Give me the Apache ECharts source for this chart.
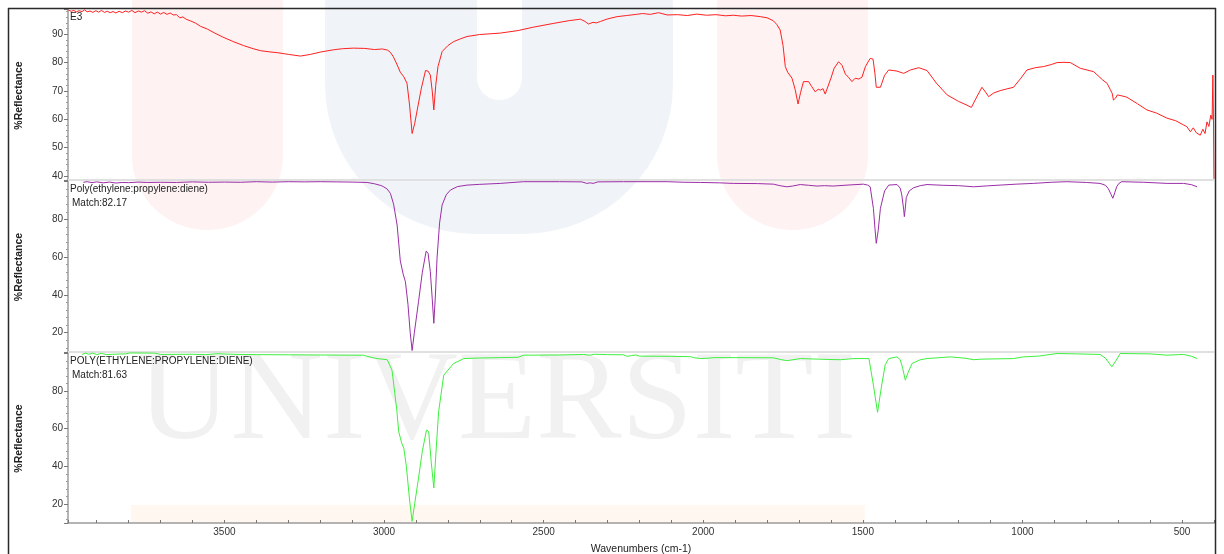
<!DOCTYPE html>
<html>
<head>
<meta charset="utf-8">
<script src="https://cdn.jsdelivr.net/npm/echarts@6/dist/echarts.min.js"></script>
<style>
  html, body { margin: 0; padding: 0; background: #ffffff; }
  #chart { width: 1224px; height: 554px; }
</style>
</head>
<body>
<div id="chart"></div>
<script>
// ---- Sample spectrum: E3 ----
const e3Wavenumber = [3989, 3980, 3972, 3964, 3955, 3946, 3938, 3930, 3921, 3912, 3903, 3894, 3885, 3876, 3867, 3858, 3849, 3840, 3830, 3820, 3810, 3800, 3790, 3780, 3770, 3760, 3750, 3740, 3730, 3720, 3710, 3700, 3690, 3680, 3670, 3660, 3650, 3640, 3630, 3620, 3606, 3590, 3575, 3553, 3530, 3505, 3472, 3440, 3410, 3387, 3360, 3334, 3300, 3262, 3230, 3200, 3159, 3130, 3096, 3060, 3030, 3005, 2989, 2980, 2971, 2960, 2949, 2938, 2928, 2920, 2912, 2904, 2896, 2883, 2870, 2862, 2855, 2849, 2844, 2838, 2831, 2818, 2800, 2782, 2760, 2740, 2700, 2636, 2580, 2532, 2470, 2420, 2385, 2370, 2360, 2354, 2345, 2335, 2322, 2300, 2270, 2240, 2210, 2190, 2166, 2140, 2113, 2080, 2050, 2020, 1990, 1960, 1930, 1906, 1880, 1850, 1821, 1800, 1781, 1770, 1759, 1750, 1743, 1735, 1722, 1712, 1703, 1695, 1686, 1670, 1660, 1649, 1640, 1633, 1625, 1618, 1600, 1590, 1576, 1565, 1555, 1545, 1534, 1524, 1513, 1503, 1492, 1477, 1468, 1462, 1458, 1445, 1432, 1419, 1405, 1393, 1372, 1351, 1325, 1299, 1270, 1236, 1200, 1174, 1160, 1145, 1127, 1115, 1106, 1090, 1070, 1050, 1028, 1005, 986, 960, 934, 910, 892, 870, 850, 819, 777, 750, 735, 725, 719, 715, 708, 703, 690, 673, 640, 610, 580, 547, 520, 495, 485, 474, 465, 455, 443, 435, 428, 422, 416, 410, 406, 403.5, 401.5, 400.2];
const e3Reflectance = [98.5, 98.1, 98.4, 97.9, 98.3, 98.0, 98.6, 97.9, 98.2, 97.7, 98.3, 97.8, 98.4, 97.7, 98.1, 97.6, 98.0, 97.5, 98.1, 97.6, 98.2, 97.8, 98.4, 97.6, 98.2, 97.8, 98.3, 97.4, 97.9, 97.2, 97.8, 97.1, 97.7, 97.0, 97.5, 96.8, 96.9, 95.8, 96.1, 95.3, 94.7, 93.9, 92.8, 91.8, 90.4, 89.0, 87.4, 86.0, 84.9, 84.2, 83.8, 83.5, 82.9, 82.3, 82.9, 83.7, 84.5, 84.9, 85.1, 85.0, 84.6, 84.8, 84.4, 83.6, 82.1, 79.5, 76.6, 75.0, 72.7, 65.0, 55.0, 58.5, 63.3, 71.0, 77.2, 77.0, 75.6, 70.0, 63.3, 72.0, 78.6, 83.9, 86.0, 87.4, 88.4, 89.2, 89.9, 90.4, 91.3, 92.5, 93.8, 94.8, 95.3, 94.5, 93.6, 94.0, 94.2, 94.0, 94.5, 95.4, 96.2, 96.6, 97.0, 97.3, 97.0, 97.6, 96.8, 96.9, 96.6, 97.1, 96.7, 96.9, 96.5, 96.7, 96.4, 96.6, 96.2, 95.8, 94.8, 93.5, 91.5, 86.0, 78.6, 76.5, 74.5, 70.5, 65.4, 69.5, 73.3, 73.3, 71.5, 69.7, 70.6, 70.3, 70.8, 68.9, 74.5, 78.0, 80.3, 79.0, 76.0, 74.8, 73.3, 74.5, 74.2, 74.8, 78.6, 81.5, 81.2, 76.0, 71.3, 71.3, 75.5, 77.4, 77.2, 77.0, 76.2, 77.4, 78.2, 77.2, 72.8, 68.6, 66.3, 65.0, 64.2, 67.5, 71.3, 69.5, 68.0, 69.3, 70.1, 70.7, 71.3, 74.5, 77.4, 78.2, 78.6, 79.3, 80.0, 80.1, 80.0, 78.0, 76.8, 74.0, 72.7, 70.5, 69.2, 66.8, 67.5, 68.6, 68.3, 67.8, 65.5, 63.3, 62.2, 60.4, 59.5, 58.0, 57.4, 55.6, 57.0, 55.2, 54.4, 56.5, 55.0, 59.1, 57.5, 61.5, 60.0, 75.6, 58.7, 39.0];

// ---- Library hit 1: Poly(ethylene:propylene:diene), match 82.17 ----
const hit1Wavenumber = [3942, 3930, 3915, 3900, 3880, 3860, 3840, 3820, 3800, 3770, 3740, 3700, 3650, 3600, 3550, 3500, 3450, 3400, 3350, 3300, 3250, 3200, 3150, 3100, 3053, 3030, 3010, 3001, 2990, 2980, 2970, 2959, 2949, 2940, 2933, 2925, 2918, 2912, 2905, 2892, 2880, 2868, 2862, 2855, 2849, 2844, 2839, 2834, 2826, 2818, 2805, 2792, 2770, 2740, 2700, 2636, 2563, 2450, 2380, 2365, 2354, 2345, 2330, 2250, 2113, 2060, 2009, 1950, 1906, 1830, 1780, 1760, 1738, 1720, 1696, 1670, 1644, 1620, 1593, 1540, 1498, 1485, 1477, 1467, 1462, 1458, 1452, 1445, 1432, 1419, 1393, 1383, 1378, 1372, 1370, 1367, 1364, 1355, 1341, 1320, 1299, 1250, 1200, 1153, 1110, 1070, 1020, 966, 910, 861, 800, 757, 740, 731, 722, 717, 711, 705, 698, 689, 620, 547, 495, 470, 453];
const hit1Reflectance = [99.6, 99.9, 99.4, 99.8, 99.3, 99.7, 99.2, 99.5, 99.4, 99.7, 99.5, 99.6, 99.5, 99.8, 99.6, 99.7, 99.6, 99.9, 99.7, 99.9, 99.8, 99.9, 99.8, 99.7, 99.5, 98.8, 97.9, 97.2, 96.0, 93.7, 88.0, 77.0, 58.0, 51.0, 47.0, 35.0, 20.0, 10.6, 20.0, 36.4, 52.0, 63.2, 62.0, 52.3, 38.0, 25.0, 40.0, 59.4, 78.0, 87.6, 93.0, 95.5, 97.3, 98.1, 98.5, 99.0, 99.9, 99.9, 99.8, 99.0, 99.3, 99.0, 99.8, 99.9, 99.9, 99.6, 99.5, 99.3, 99.0, 98.9, 98.6, 97.8, 97.2, 97.6, 98.4, 98.0, 97.6, 97.8, 97.6, 98.2, 98.6, 98.1, 97.2, 85.8, 75.0, 67.3, 74.0, 85.8, 95.0, 98.1, 98.4, 96.5, 92.9, 85.0, 81.4, 86.0, 91.5, 95.0, 96.7, 97.8, 98.4, 98.0, 97.8, 97.2, 97.7, 98.1, 98.6, 99.0, 99.6, 99.9, 99.5, 99.0, 98.0, 96.2, 93.0, 91.1, 94.0, 97.2, 99.0, 99.9, 99.6, 99.0, 99.0, 98.3, 97.2];

// ---- Library hit 2: POLY(ETHYLENE:PROPYLENE:DIENE), match 81.63 ----
const hit2Wavenumber = [3946, 3935, 3925, 3912, 3900, 3885, 3870, 3850, 3810, 3795, 3720, 3700, 3600, 3560, 3520, 3480, 3400, 3300, 3200, 3100, 3065, 3053, 3035, 3022, 3000, 2990, 2975, 2960, 2954, 2944, 2938, 2930, 2920, 2912, 2904, 2892, 2880, 2867, 2860, 2852, 2844, 2837, 2829, 2813, 2782, 2750, 2700, 2636, 2580, 2563, 2450, 2375, 2355, 2340, 2300, 2250, 2239, 2225, 2210, 2200, 2100, 2040, 2030, 2009, 1985, 1967, 1900, 1780, 1755, 1738, 1722, 1696, 1640, 1600, 1570, 1530, 1481, 1467, 1454, 1441, 1430, 1419, 1393, 1383, 1375, 1367, 1358, 1346, 1320, 1299, 1226, 1180, 1153, 1130, 1028, 997, 950, 892, 830, 757, 740, 720, 706, 694, 600, 547, 510, 495, 470, 453];
const hit2Reflectance = [99.5, 100.2, 99.6, 100.2, 99.4, 100.1, 99.4, 99.6, 99.8, 100.3, 100.2, 99.5, 99.6, 99.4, 99.9, 99.6, 99.4, 99.3, 99.2, 99.1, 99.1, 98.5, 97.8, 97.3, 96.9, 96.7, 91.1, 70.0, 58.4, 52.0, 49.6, 40.0, 22.0, 10.7, 20.0, 33.7, 48.0, 59.3, 58.4, 42.0, 28.4, 48.0, 69.0, 88.5, 94.7, 97.3, 97.6, 97.8, 98.0, 99.1, 99.2, 99.5, 99.1, 99.6, 99.4, 99.3, 98.5, 98.9, 99.2, 98.6, 98.5, 98.3, 97.8, 97.3, 97.5, 97.8, 97.8, 97.7, 96.7, 96.2, 96.6, 97.3, 97.0, 96.8, 96.7, 97.3, 97.3, 83.2, 68.7, 83.2, 94.0, 97.3, 98.2, 96.7, 92.0, 85.8, 90.0, 94.7, 96.7, 97.3, 98.2, 97.5, 96.7, 97.0, 97.3, 98.2, 98.6, 100.0, 99.8, 99.5, 97.5, 92.9, 96.5, 100.0, 99.8, 99.1, 99.4, 99.5, 98.5, 97.3];

// ---- Axis tick labels ----
const xTickLabels = [500, 1000, 1500, 2000, 2500, 3000, 3500];
const yTickLabelsTop = [40, 50, 60, 70, 80, 90];
const yTickLabelsLower = [20, 40, 60, 80];

// ---- Panel captions ----
const panelTitles = ['E3', 'Poly(ethylene:propylene:diene)', 'POLY(ETHYLENE:PROPYLENE:DIENE)'];
const panelMatches = ['', 'Match:82.17', 'Match:81.63'];
const yAxisTitle = '%Reflectance';
const xAxisTitle = 'Wavenumbers (cm-1)';

const zip = (xs, ys) => xs.map((x, i) => [x, ys[i]]);

const FONT = "'Liberation Sans', Arial, sans-serif";
const AXIS_GRAY = '#9c9c9c';
const PLOT_LEFT = 68, PLOT_RIGHT = 1214;
const panels = [
  { top: 9, height: 171, min: 38.6, max: 98.9, split: 6, labels: yTickLabelsTop },
  { top: 180, height: 172, min: 9.8, max: 100.8, split: 5, labels: yTickLabelsLower },
  { top: 352, height: 171, min: 9.8, max: 100.8, split: 5, labels: yTickLabelsLower }
];

const grids = panels.map(p => ({
  left: PLOT_LEFT, right: 1224 - PLOT_RIGHT, top: p.top, height: p.height,
  containLabel: false, outerBoundsMode: 'none'
}));

const xAxes = panels.map((p, i) => ({
  type: 'value', gridIndex: i, min: 400, max: 3990, interval: 100, inverse: true,
  show: i === 2,
  axisLine: { show: true, onZero: false, lineStyle: { color: AXIS_GRAY, width: 1.5 } },
  axisTick: { show: true, inside: true, length: 3, lineStyle: { color: '#777' } },
  splitLine: { show: false },
  axisLabel: {
    fontFamily: FONT, fontSize: 10, color: '#333', margin: 4,
    formatter: v => xTickLabels.includes(Math.round(v)) ? String(Math.round(v)) : ''
  },
  name: i === 2 ? xAxisTitle : '',
  nameLocation: 'middle', nameGap: 21,
  nameTextStyle: { fontFamily: FONT, fontSize: 10.5, color: '#222' }
}));

const yAxes = panels.map((p, i) => ({
  type: 'value', gridIndex: i, min: p.min, max: p.max, splitNumber: p.split,
  axisLine: { show: true, lineStyle: { color: AXIS_GRAY, width: 1.5 } },
  axisTick: { show: true, length: 4, lineStyle: { color: '#777' } },
  minorTick: { show: true, splitNumber: 5, length: 2, lineStyle: { color: '#999' } },
  splitLine: { show: false },
  axisLabel: {
    fontFamily: FONT, fontSize: 10, color: '#333', margin: 5,
    formatter: v => p.labels.includes(Math.round(v * 1000) / 1000) ? String(v) : ''
  }
}));

const seriesDefs = [
  { name: 'E3', x: e3Wavenumber, y: e3Reflectance, color: '#ff2020' },
  { name: 'Poly(ethylene:propylene:diene)', x: hit1Wavenumber, y: hit1Reflectance, color: '#9a2ea6' },
  { name: 'POLY(ETHYLENE:PROPYLENE:DIENE)', x: hit2Wavenumber, y: hit2Reflectance, color: '#3ef03e' }
];

const series = seriesDefs.map((s, i) => ({
  type: 'line', name: s.name, xAxisIndex: i, yAxisIndex: i,
  data: zip(s.x, s.y), showSymbol: false, symbol: 'none', clip: true,
  lineStyle: { color: s.color, width: 1 }, itemStyle: { color: s.color },
  z: 3
}));

// Faint background emblem behind the plots
const emblem = [
  { type: 'rect', silent: true, z: -10, shape: { x: 132, y: -120, width: 151, height: 350, r: [0, 0, 75, 75] }, style: { fill: '#fef2f2' } },
  { type: 'rect', silent: true, z: -10, shape: { x: 325, y: -120, width: 348, height: 354, r: [0, 0, 150, 150] }, style: { fill: '#f0f4f8' } },
  { type: 'rect', silent: true, z: -9, shape: { x: 477, y: -120, width: 45, height: 220, r: [0, 0, 22, 22] }, style: { fill: '#ffffff' } },
  { type: 'rect', silent: true, z: -10, shape: { x: 717, y: -120, width: 151, height: 350, r: [0, 0, 75, 75] }, style: { fill: '#fef2f2' } },
  { type: 'rect', silent: true, z: -10, shape: { x: 131, y: 505, width: 734, height: 18 }, style: { fill: '#fff7f0' } },
  { type: 'text', silent: true, z: -8, x: 138, y: 404, style: { text: 'UNIVERSITI', font: "128px 'Liberation Serif', 'Times New Roman', serif", fill: '#f1f1f1', textAlign: 'left', textVerticalAlign: 'middle' } }
];

const frame = [
  { type: 'line', silent: true, z: 20, shape: { x1: 8, y1: 8.5, x2: 1216, y2: 8.5 }, style: { stroke: '#2a2a2a', lineWidth: 1.5 } },
  { type: 'line', silent: true, z: 20, shape: { x1: 8.5, y1: 8, x2: 8.5, y2: 554 }, style: { stroke: '#2a2a2a', lineWidth: 1.5 } },
  { type: 'line', silent: true, z: 20, shape: { x1: 1215.5, y1: 8, x2: 1215.5, y2: 554 }, style: { stroke: '#2a2a2a', lineWidth: 1.5 } },
  { type: 'line', silent: true, z: 1, shape: { x1: PLOT_LEFT, y1: 180, x2: PLOT_RIGHT, y2: 180 }, style: { stroke: '#e0e0e0', lineWidth: 2 } },
  { type: 'line', silent: true, z: 1, shape: { x1: PLOT_LEFT, y1: 352, x2: PLOT_RIGHT, y2: 352 }, style: { stroke: '#e0e0e0', lineWidth: 2 } }
];

const captionY = [17, 189, 361];
const captions = [];
panels.forEach((p, i) => {
  captions.push({ type: 'text', silent: true, z: 10, x: 70, y: captionY[i], style: { text: panelTitles[i], font: `10px ${FONT}`, fill: '#222', textVerticalAlign: 'middle' } });
  if (panelMatches[i]) {
    captions.push({ type: 'text', silent: true, z: 10, x: 72, y: captionY[i] + 14, style: { text: panelMatches[i], font: `10px ${FONT}`, fill: '#222', textVerticalAlign: 'middle' } });
  }
  captions.push({ type: 'text', silent: true, z: 10, x: 19, y: p.top + p.height / 2 + 1, rotation: Math.PI / 2,
    style: { text: yAxisTitle, font: `bold 10.5px ${FONT}`, fill: '#222', textAlign: 'center', textVerticalAlign: 'middle' } });
});

const chart = echarts.init(document.getElementById('chart'), null, { renderer: 'canvas' });
chart.setOption({
  animation: false,
  backgroundColor: '#ffffff',
  grid: grids,
  xAxis: xAxes,
  yAxis: yAxes,
  series: series,
  graphic: { elements: [...emblem, ...frame, ...captions] }
});
</script>
</body>
</html>
